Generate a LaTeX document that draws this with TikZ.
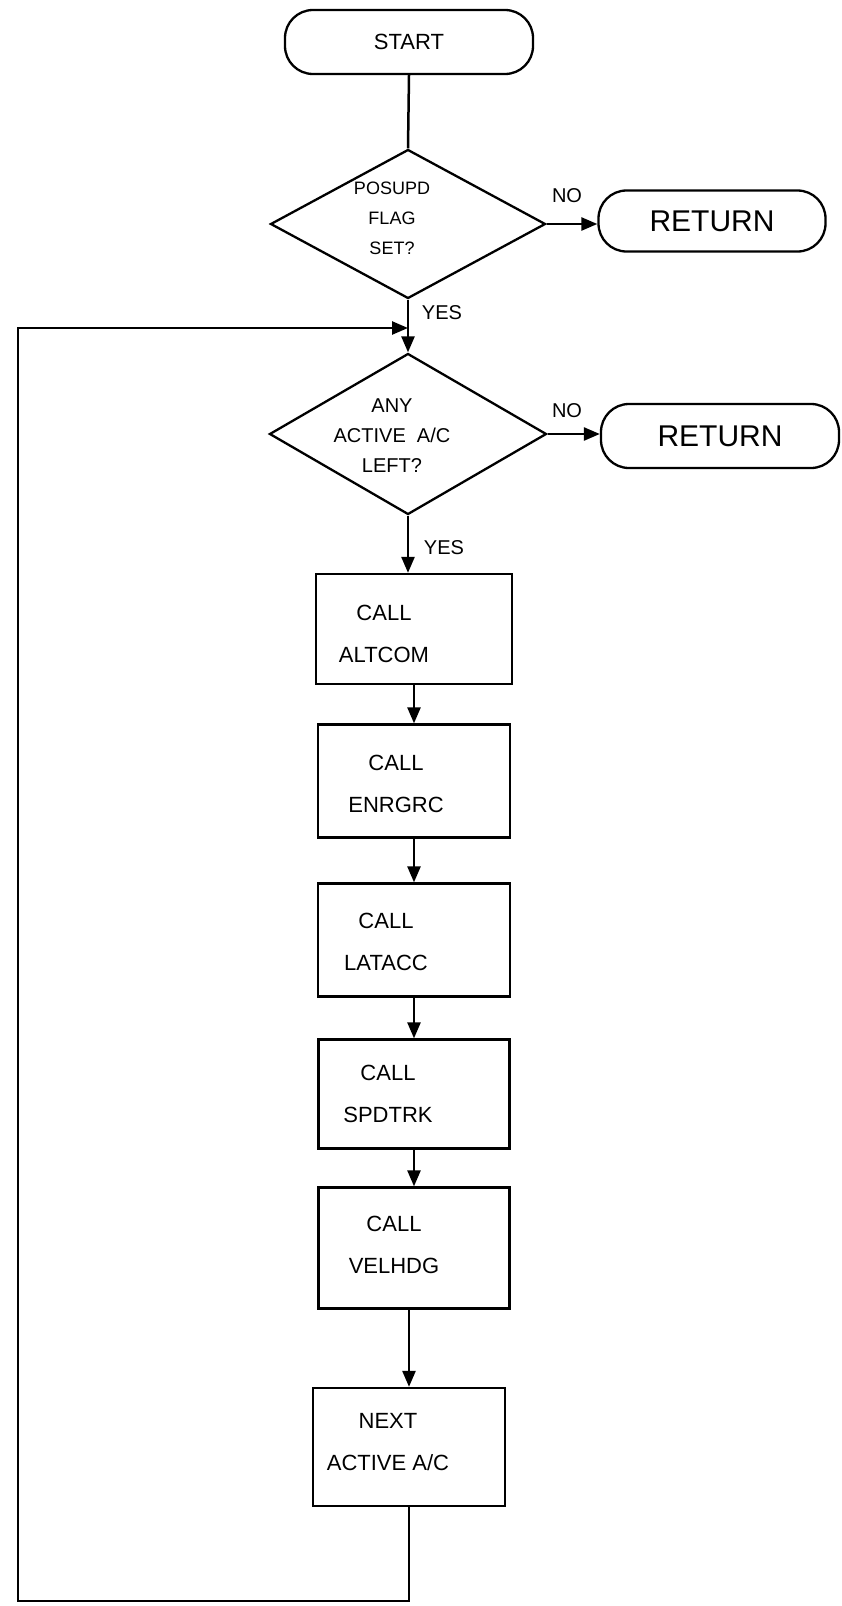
\documentclass[tikz,border=0pt]{standalone}
\usepackage{fontspec}
\setmainfont{Liberation Sans}
\usetikzlibrary{shapes.geometric,arrows.meta}

\begin{document}
\begin{tikzpicture}[x=1pt,y=-1pt,
  flow/.style={draw, line width=2.5pt},
  arr/.style={flow, -{Triangle[length=16pt,width=13pt]}},
  term/.style={draw, line width=2.3pt, rounded corners=28pt, minimum height=64pt, inner sep=0pt},
  decision/.style={draw, diamond, line width=2.3pt, inner sep=0pt},
  procbox/.style={draw, rectangle, line width=2.3pt, inner sep=0pt},
  qtext/.style={font=\fontsize{20}{30}\selectfont, align=center, inner sep=0pt},
  ptext/.style={font=\fontsize{22}{42}\selectfont, align=center, inner sep=0pt},
  branch/.style={font=\fontsize{20}{24}\selectfont, inner sep=0pt}
]
\useasboundingbox (0,0) rectangle (841,1606);

% terminals
\node[term, minimum width=248pt, font=\fontsize{22}{26}\selectfont] (start) at (409,42) {START};
\node[term, minimum width=227pt, minimum height=61pt, font=\fontsize{30}{34}\selectfont] (ret1) at (712,221) {RETURN};
\node[term, minimum width=238pt, font=\fontsize{30}{34}\selectfont] (ret2) at (720,436) {RETURN};

% decisions
\node[decision, minimum width=275pt, minimum height=149pt] (d1) at (408,224) {};
\node[qtext, font=\fontsize{18}{30}\selectfont] (d1t) at (392,218) {POSUPD\\FLAG\\SET?};
\node[decision, minimum width=277pt, minimum height=161pt] (d2) at (408,434) {};
\node[qtext] (d2t) at (392,436) {ANY\\ACTIVE\ \ A/C\\LEFT?};

% process boxes
\node[procbox, minimum width=196pt, minimum height=110pt] (b1) at (414,629) {};
\node[ptext] (b1t) at (384,634) {CALL\\ALTCOM};
\node[procbox, minimum width=192pt, minimum height=113pt] (b2) at (414,781) {};
\node[ptext] (b2t) at (396,784) {CALL\\ENRGRC};
\node[procbox, minimum width=192pt, minimum height=113pt] (b3) at (414,940) {};
\node[ptext] (b3t) at (386,942) {CALL\\LATACC};
\node[procbox, minimum width=191pt, minimum height=109pt] (b4) at (414,1094) {};
\node[ptext] (b4t) at (388,1094) {CALL\\SPDTRK};
\node[procbox, minimum width=191pt, minimum height=121pt] (b5) at (414,1248) {};
\node[ptext] (b5t) at (394,1245) {CALL\\VELHDG};
\node[procbox, minimum width=192pt, minimum height=118pt] (b6) at (409,1447) {};
\node[ptext] (b6t) at (388,1442) {NEXT\\ACTIVE A/C};

% branch labels
\node[branch] (no1) at (567,196) {NO};
\node[branch] (yes1) at (442,313) {YES};
\node[branch] (no2) at (567,411) {NO};
\node[branch] (yes2) at (444,548) {YES};

% loop corners
\coordinate (jn) at (408,328);
\coordinate (lt) at (18,328);
\coordinate (lb) at (18,1601);

% connectors
\draw[flow] (start.south) -- (d1.north);
\draw[arr] (d1.east) -- (d1.east -| ret1.west);
\draw[arr] (d1.south) -- (d2.north);
\draw[arr] (d2.east) -- (d2.east -| ret2.west);
\draw[arr] (d2.south) -- (d2.south |- b1.north);
\draw[arr] (b1.south) -- (b2.north);
\draw[arr] (b2.south) -- (b3.north);
\draw[arr] (b3.south) -- (b4.north);
\draw[arr] (b4.south) -- (b5.north);
\draw[arr] (b6.north |- b5.south) -- (b6.north);
\draw[arr] (b6.south) |- (lb) -- (lt) -- (jn);
\end{tikzpicture}
\end{document}
